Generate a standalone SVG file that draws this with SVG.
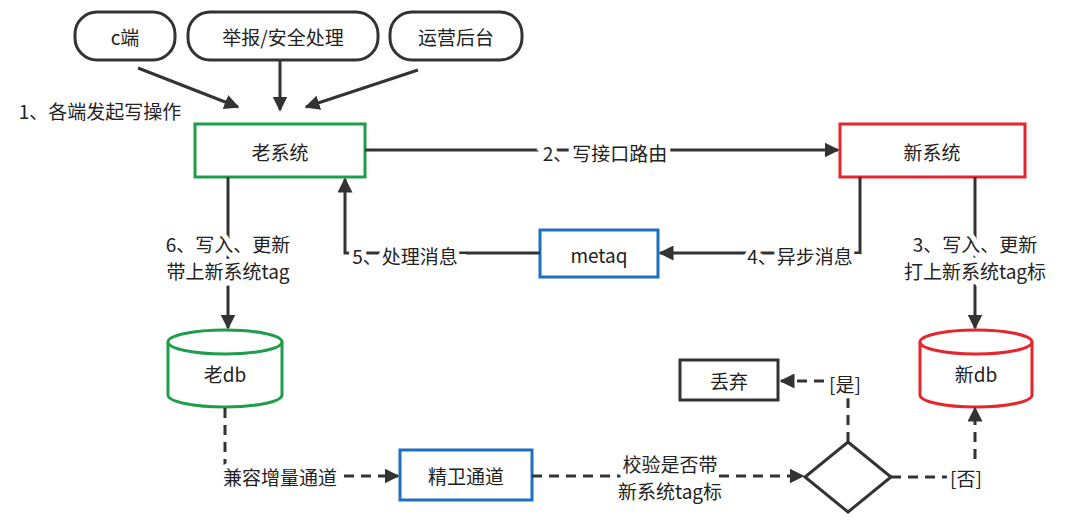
<svg xmlns="http://www.w3.org/2000/svg" width="1080" height="528" viewBox="0 0 1080 528">
<defs>
<marker id="ar" viewBox="0 0 10 10" refX="9" refY="5" markerWidth="5" markerHeight="5" orient="auto"><path d="M0,0 L10,5 L0,10 z" fill="#333"/></marker>
<style>
text{font-family:"Noto Sans CJK SC","Noto Sans",sans-serif;font-size:19px;fill:#222;text-anchor:middle;dominant-baseline:central}
.pill{fill:#fff;stroke:#333;stroke-width:3}
.ln{fill:none;stroke:#333;stroke-width:3;marker-end:url(#ar)}
.ds{stroke-dasharray:10,7}
.h{paint-order:stroke;stroke:#fff;stroke-width:10px}
</style>
</defs>
<rect width="1080" height="528" fill="#fff"/>
<g id="c"><rect class="pill" x="75" y="12" width="100" height="48" rx="22"/><text x="125" y="36">c端</text></g>
<g id="report"><rect class="pill" x="188" y="12" width="190" height="48" rx="22"/><text x="283" y="36">举报/安全处理</text></g>
<g id="ops"><rect class="pill" x="390" y="12" width="132" height="48" rx="22"/><text x="456" y="36">运营后台</text></g>
<g id="old"><rect x="195" y="124" width="170" height="53" fill="#fff" stroke="#1f9d4c" stroke-width="3"/><text x="280" y="151">老系统</text></g>
<g id="new"><rect x="840" y="124" width="185" height="53" fill="#fff" stroke="#e5262d" stroke-width="3"/><text x="932" y="151">新系统</text></g>
<g id="metaq"><rect x="540" y="230" width="118" height="47" fill="#fff" stroke="#1f6fbf" stroke-width="3"/><text x="599" y="254">metaq</text></g>
<g id="olddb"><path d="M168,342 V395 A57,12 0 0 0 282,395 V342" fill="#fff" stroke="#1f9d4c" stroke-width="3"/><ellipse cx="225" cy="342" rx="57" ry="12" fill="#fff" stroke="#1f9d4c" stroke-width="3"/><text x="225" y="373">老db</text></g>
<g id="newdb"><path d="M920,342 V395 A56,12 0 0 0 1032,395 V342" fill="#fff" stroke="#e5262d" stroke-width="3"/><ellipse cx="976" cy="342" rx="56" ry="12" fill="#fff" stroke="#e5262d" stroke-width="3"/><text x="976" y="373">新db</text></g>
<g id="jw"><rect x="400" y="450" width="132" height="50" fill="#fff" stroke="#1f6fbf" stroke-width="3"/><text x="466" y="475">精卫通道</text></g>
<g id="drop"><rect x="680" y="360" width="98" height="40" fill="#fff" stroke="#333" stroke-width="3"/><text x="729" y="380">丢弃</text></g>
<g id="dia"><path d="M848,442 L891,477 L848,512 L805,477 z" fill="#fff" stroke="#333" stroke-width="3"/></g>
<g id="edges">
<path class="ln" d="M138,68 L238,107"/>
<path class="ln" d="M280,60 L280,110"/>
<path class="ln" d="M418,70 L306,107"/>
<text x="100" y="110">1、各端发起写操作</text>
<path class="ln" d="M365,150 L838,150"/>
<text class="h" x="605" y="152">2、写接口路由</text>
<path class="ln" d="M860,177 V253 H660"/>
<text class="h" x="800" y="255">4、异步消息</text>
<path class="ln" d="M540,253 H345 V179"/>
<text class="h" x="405" y="255">5、处理消息</text>
<path class="ln" d="M228,177 V328"/>
<text class="h" x="228" y="243">6、写入、更新</text>
<text class="h" x="228" y="270">带上新系统tag</text>
<path class="ln" d="M975,177 V328"/>
<text class="h" x="975" y="243">3、写入、更新</text>
<text class="h" x="975" y="270">打上新系统tag标</text>
<path class="ln ds" d="M225,408 V476 H398"/>
<text class="h" x="280" y="476">兼容增量通道</text>
<path class="ln ds" d="M532,476 H803"/>
<text class="h" x="670" y="463">校验是否带</text>
<text class="h" x="670" y="490">新系统tag标</text>
<path class="ln ds" d="M848,442 V381 H781"/>
<text class="h" x="845" y="383">[是]</text>
<path class="ln ds" d="M891,477 H975 V408"/>
<text class="h" x="966" y="477">[否]</text>
</g>
</svg>
